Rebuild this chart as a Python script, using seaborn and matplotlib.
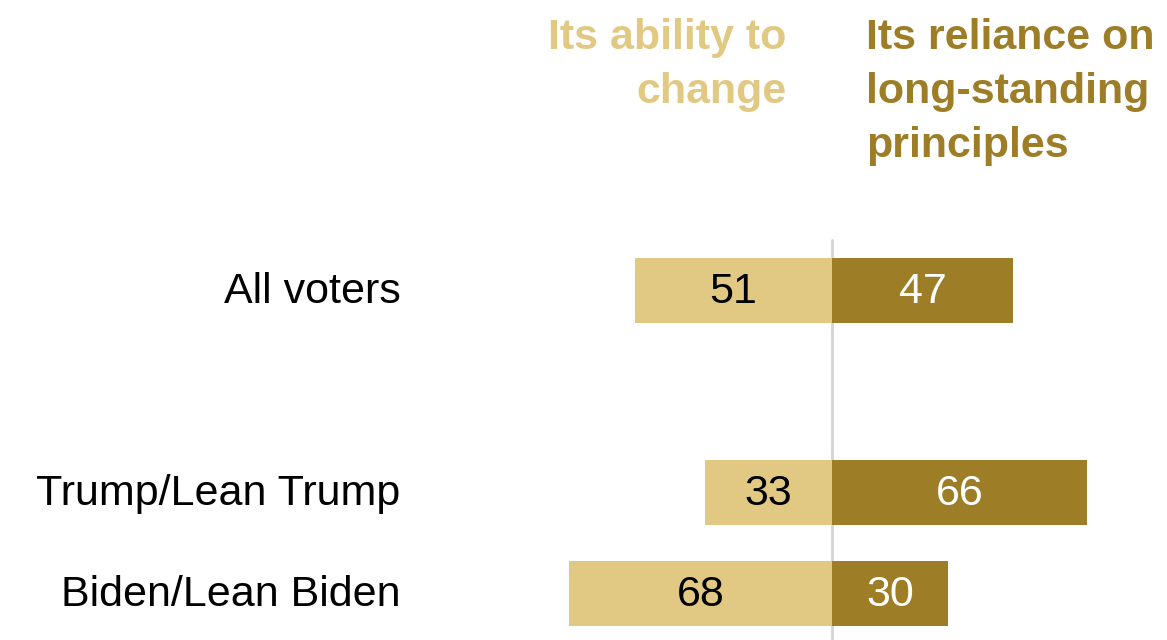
import pandas as pd
import matplotlib.pyplot as plt
import seaborn as sns

# Data
groups = ["All voters", "Trump/Lean Trump", "Biden/Lean Biden"]
ability = [51, 33, 68]
reliance = [47, 66, 30]
row_pos = [0, 2, 3]

col_ability = "#E2C983"
col_reliance = "#9D7D26"

df = pd.DataFrame({
    "group": groups * 2,
    "row": row_pos * 2,
    "side": ["ability"] * 3 + ["reliance"] * 3,
    "value": ability + reliance,
})
df["signed"] = df["value"].where(df["side"] == "reliance", -df["value"])

sns.set_style("white")
plt.rcParams["font.family"] = ["Liberation Sans", "DejaVu Sans"]

fig = plt.figure(figsize=(11.67, 6.4), dpi=100)
ax = fig.add_axes([0, 0, 1, 1])

sns.barplot(data=df, x="signed", y="row", hue="side", orient="h",
            native_scale=True, dodge=False, width=0.64, linewidth=0,
            saturation=1,
            palette={"ability": col_ability, "reliance": col_reliance},
            legend=False, ax=ax)

ax.set_xlim(-215.5, 86.8)
ax.set_ylim(3.46, -2.876)
ax.axis("off")

# center line
ax.plot([0, 0], [-0.5, 3.6], color="#D4D4D4", lw=2, zorder=0.5, clip_on=False)

# value labels
for _, r in df.iterrows():
    clr = "black" if r["side"] == "ability" else "white"
    ax.text(r["signed"] / 2, r["row"] + 0.01, str(r["value"]), ha="center", va="center",
            fontsize=31, color=clr)

# category labels
for g, y in zip(groups, row_pos):
    ax.text(-111.7, y + 0.01, g, ha="right", va="center", fontsize=31, color="black")

# headers
ax.text(-11.7, -2.70, "Its ability to\nchange", ha="right", va="top",
        fontsize=31, fontweight="bold", color=col_ability, linespacing=1.45)
ax.text(8.8, -2.70, "Its reliance on\nlong-standing\nprinciples", ha="left", va="top",
        fontsize=31, fontweight="bold", color=col_reliance, linespacing=1.45)

plt.savefig("out.png", dpi=100)
